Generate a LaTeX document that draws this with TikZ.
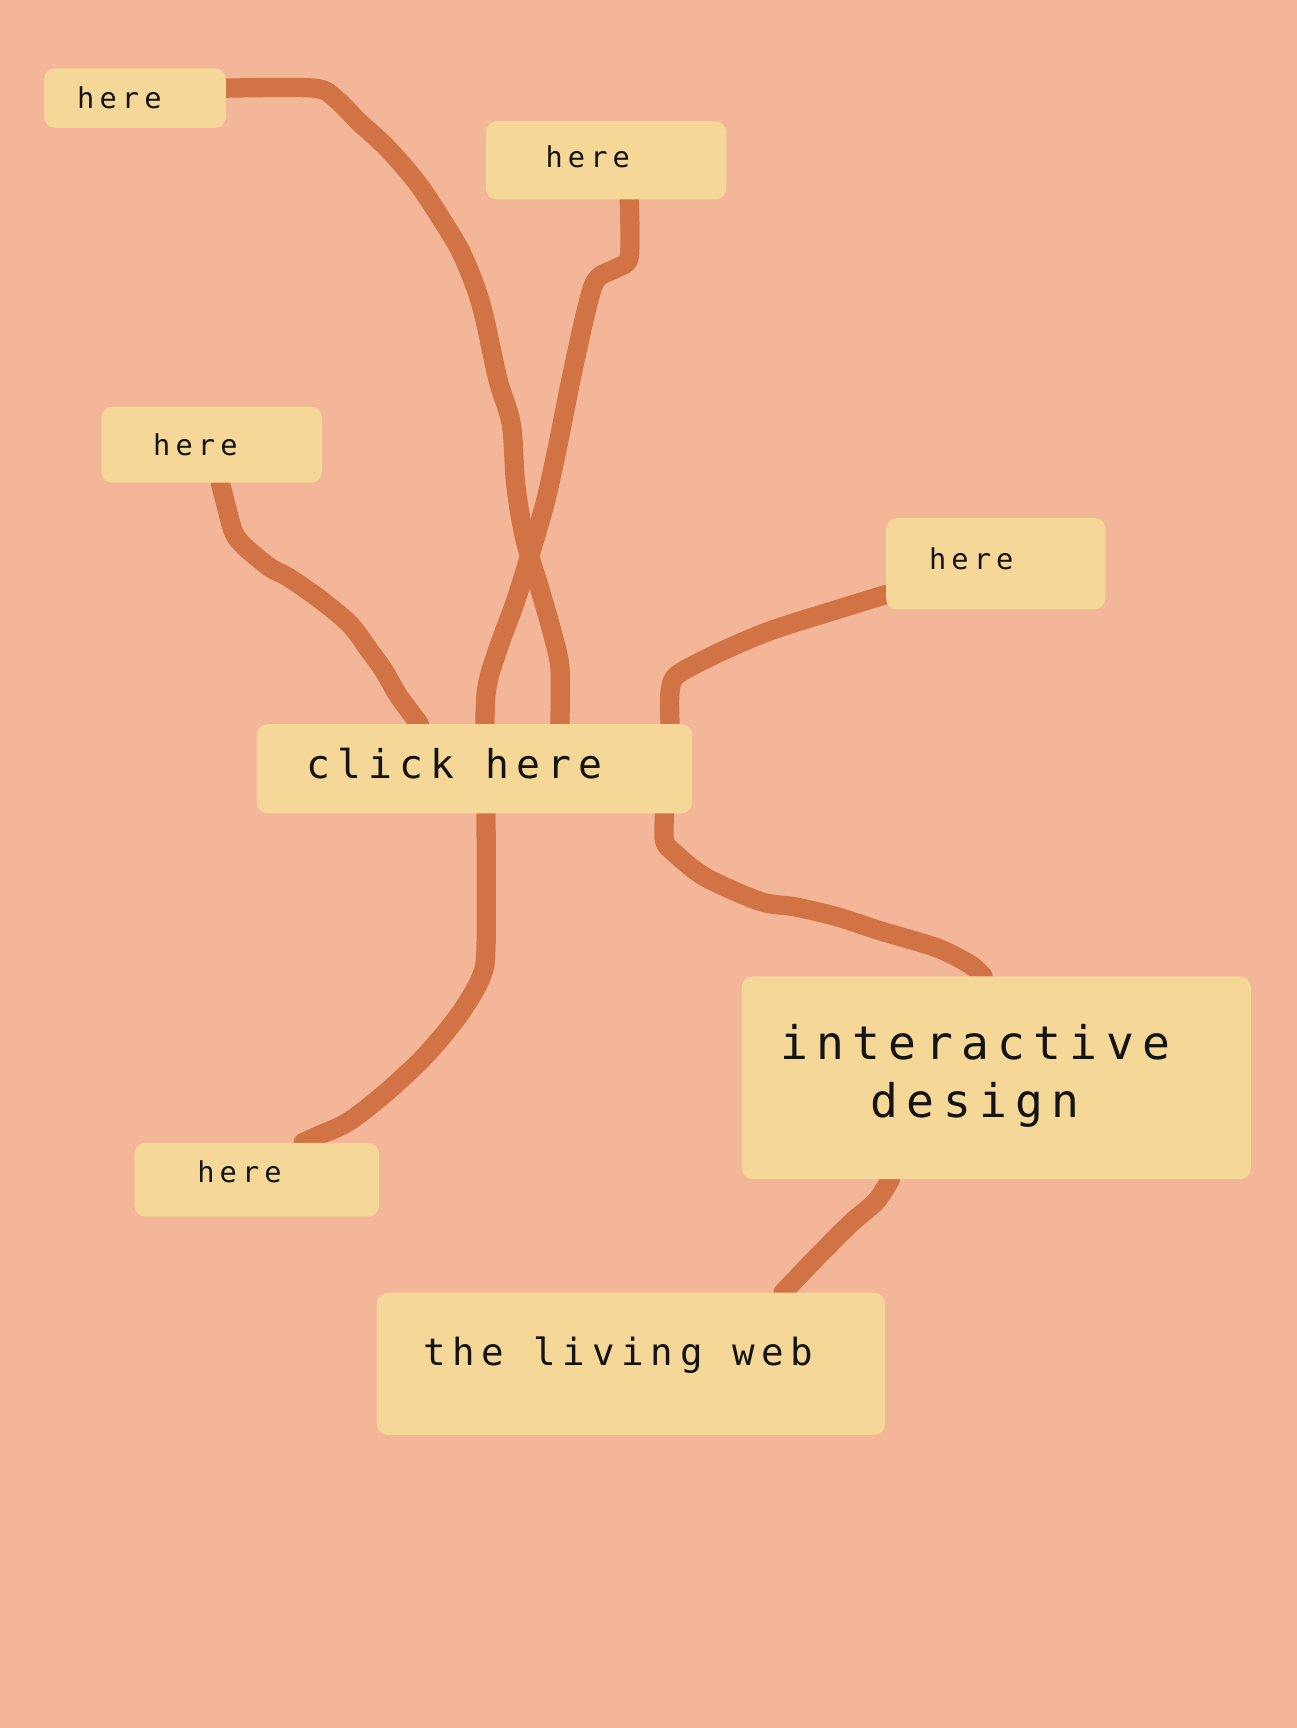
\documentclass[tikz,border=0pt]{standalone}
\usepackage{fontspec}
\usepackage{xcolor}
\usepackage{tikz}
\usetikzlibrary {backgrounds,
                 positioning}
\newfontfamily\monofont[LetterSpace=18]{DejaVu Sans Mono}
\definecolor{peach}{HTML}{F4B698}
\definecolor{sand}{HTML}{F5D898}
\definecolor{rust}{HTML}{D27346}
\definecolor{ink}{HTML}{141414}
\tikzset{
         box/.style={fill=sand, rounded corners=10pt, inner sep=0pt},
         word/.style={inner sep=0pt, text=ink},
         wire/.style={draw=rust, line width=17.5pt, line cap=round, line join=round},
}

\begin{document}
\begin{tikzpicture}[x=1pt, y=-1pt]
    \useasboundingbox (0,0) rectangle (1176,1568);

    % Kaesten
    \node[box, minimum width=165pt, minimum height=54pt] (h1) at (122.5,89) {};
    \node[box, minimum width=218pt, minimum height=71pt] (h2) at (550,145.5) {};
    \node[box, minimum width=200pt, minimum height=69pt] (h3) at (192,403.5) {};
    \node[box, minimum width=199pt, minimum height=83pt] (h4) at (903.5,511.5) {};
    \node[box, minimum width=395pt, minimum height=81pt] (click) at (430.5,697.5) {};
    \node[box, minimum width=222pt, minimum height=67pt] (h5) at (233,1070.5) {};
    \node[box, minimum width=462pt, minimum height=184pt] (design) at (904,978) {};
    \node[box, minimum width=461pt, minimum height=129pt] (web) at (572.5,1237.5) {};

    % Texte
    \node[word, font={\monofont\fontsize{26}{30}\selectfont}, right=30pt of h1.west] (t1) {here};
    \node[word, font={\monofont\fontsize{26}{30}\selectfont}, right=54pt of h2.west, yshift=3.5pt] (t2) {here};
    \node[word, font={\monofont\fontsize{26}{30}\selectfont}, right=47pt of h3.west] (t3) {here};
    \node[word, font={\monofont\fontsize{26}{30}\selectfont}, right=39pt of h4.west, yshift=4pt] (t4) {here};
    \node[word, font={\monofont\fontsize{36}{40}\selectfont}, right=45pt of click.west, yshift=5pt] (tclick) {click here};
    \node[word, font={\monofont\fontsize{26}{30}\selectfont}, right=57pt of h5.west, yshift=7pt] (t5) {here};
    \node[word, font={\monofont\fontsize{42}{53}\selectfont}, align=center, right=35pt of design.west, yshift=2pt] (tdesign) {interactive\\design};
    \node[word, font={\monofont\fontsize{34}{40}\selectfont}, right=42pt of web.west, yshift=7.5pt] (tweb) {the living web};

    % Linien hinter den Kaesten
    \begin{scope}[on background layer]
        \fill[peach] (-10,-10) rectangle (1186,1578);
        \draw[wire] plot[smooth, tension=0.5] coordinates {([yshift=9pt]h1.east) (285,80) (305,90) (325,110) (350,133) (378,165) (400,198) (418,228) (432,262) (440,290) (452,345) (464,385) (468,440) (476,488) (490,535) (500,570) (508,605) ([xshift=77.5pt]click.north)};
        \draw[wire] plot[smooth, tension=0.5] coordinates {([xshift=21pt]h2.south) (571,233) (560,243) (545,250) (538,260) (530,290) (518,345) (506,405) (495,455) (482,500) (468,545) (455,580) (445,610) (441,630) ([xshift=9.5pt]click.north)};
        \draw[wire] plot[smooth, tension=0.5] coordinates {([xshift=8pt]h3.south) (205,458) (212,483) (222,496) (245,515) (262,524) (292,545) (318,567) (335,590) (348,608) (362,632) ([xshift=-50pt]click.north)};
        \draw[wire] plot[smooth, tension=0.5] coordinates {([yshift=-28pt]h4.west) (760,553) (700,572) (655,591) (615,612) (608,628) ([xshift=177.5pt]click.north)};
        \draw[wire] plot[smooth, tension=0.5] coordinates {([xshift=172.5pt]click.south) (603,763) (612,774) (640,796) (690,818) (722,823) (760,832) (800,845) (850,860) (880,875) ([xshift=-12pt]design.north)};
        \draw[wire] plot[smooth, tension=0.5] coordinates {([xshift=10.5pt]click.south) (441,860) (436,888) (420,916) (400,942) (378,966) (346,995) (316,1018) (290,1030) ([xshift=42pt]h5.north)};
        \draw[wire] plot[smooth, tension=0.5] coordinates {([xshift=-96pt]design.south) (795,1090) (772,1110) (742,1140) (718,1165) ([xshift=138pt]web.north)};
    \end{scope}

\end{tikzpicture}
\end{document}
